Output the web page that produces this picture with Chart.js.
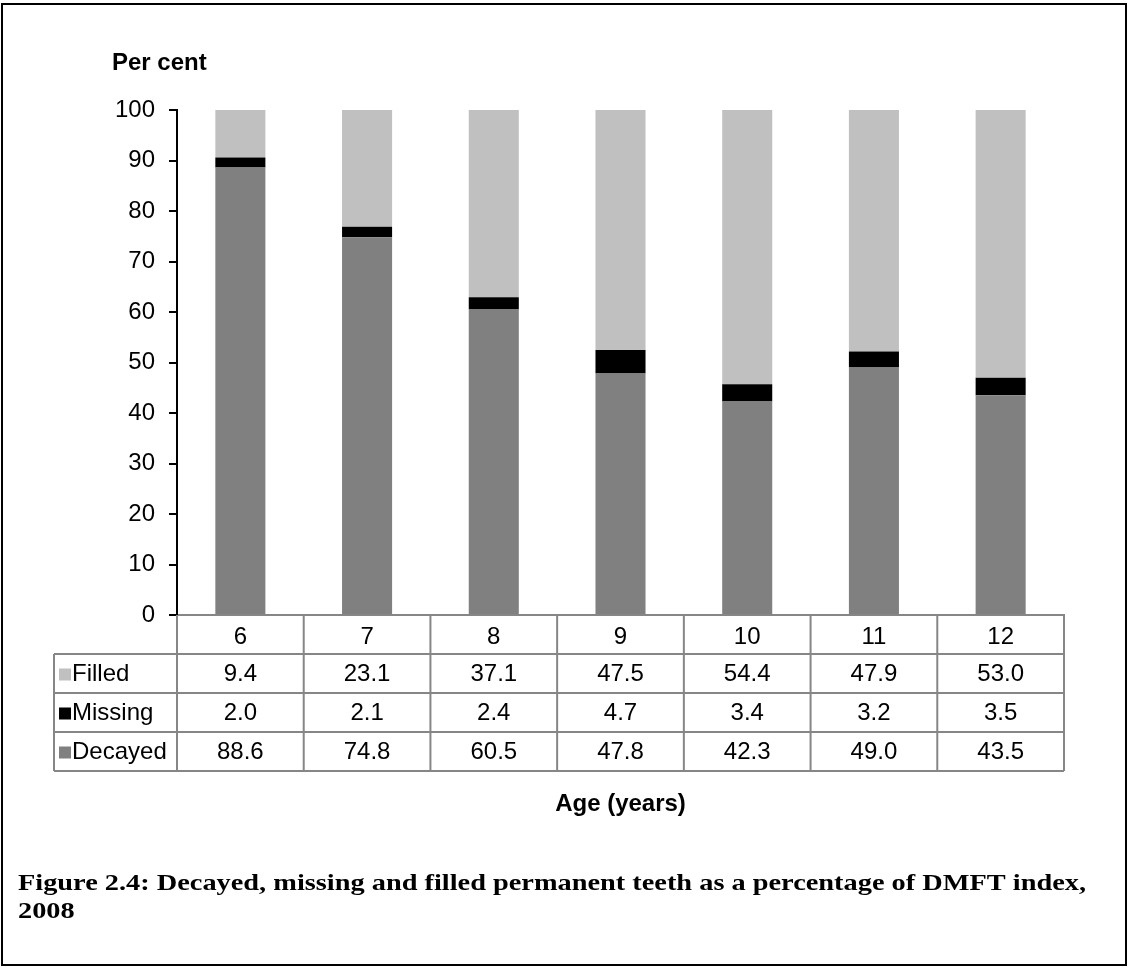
<!DOCTYPE html>
<html>
<head>
<meta charset="utf-8">
<title>Decayed, missing and filled permanent teeth, 2008</title>
<script src="https://cdn.jsdelivr.net/npm/chart.js@4.4.1/dist/chart.umd.min.js"></script>
<style>
  html, body { margin: 0; padding: 0; background: #ffffff; }
  canvas { display: block; }
</style>
</head>
<body>
<canvas id="dmft" width="1128" height="968"></canvas>
<script>
// Age groups (years) and share of the DMFT index (per cent) by component
const ages = ['6', '7', '8', '9', '10', '11', '12'];
const filled = [9.4, 23.1, 37.1, 47.5, 54.4, 47.9, 53.0];
const missing = [2.0, 2.1, 2.4, 4.7, 3.4, 3.2, 3.5];
const decayed = [88.6, 74.8, 60.5, 47.8, 42.3, 49.0, 43.5];
const yTickValues = [0, 10, 20, 30, 40, 50, 60, 70, 80, 90, 100];

const yAxisTitle = 'Per cent';
const xAxisTitle = 'Age (years)';
const captionLines = [
  'Figure 2.4: Decayed, missing and filled permanent teeth as a percentage of DMFT index,',
  '2008'
];

const SANS = '"Liberation Sans", Arial, sans-serif';
const SERIF = '"Liberation Serif", "Times New Roman", serif';
const FONT_SIZE = 24;
const COLORS = { Filled: '#c0c0c0', Missing: '#000000', Decayed: '#808080' };
const TABLE_LINE = '#868686';

// Row order of the data table under the bars
const tableRows = [
  { name: 'Filled', values: filled },
  { name: 'Missing', values: missing },
  { name: 'Decayed', values: decayed }
];

const HEADER_H = 39;
const ROW_H = 39;
const LEGEND_LEFT = 54;

// Draws the data table, axis titles, caption and the frame
const decorations = {
  id: 'decorations',
  afterDraw(chart) {
    const ctx = chart.ctx;
    const area = chart.chartArea;
    const x = chart.scales.x;
    const colW = (x.right - x.left) / ages.length;
    const top = area.bottom;
    const bottom = top + HEADER_H + ROW_H * tableRows.length;

    ctx.save();

    // table grid
    ctx.strokeStyle = TABLE_LINE;
    ctx.lineWidth = 2;
    ctx.beginPath();
    for (let r = 0; r <= tableRows.length; r++) {
      const y = top + HEADER_H + r * ROW_H;
      ctx.moveTo(LEGEND_LEFT, y);
      ctx.lineTo(x.right, y);
    }
    for (let i = 0; i <= ages.length; i++) {
      const xx = i < ages.length ? x.getPixelForValue(i) - colW / 2 : x.getPixelForValue(ages.length - 1) + colW / 2;
      ctx.moveTo(xx, top);
      ctx.lineTo(xx, bottom);
    }
    ctx.moveTo(LEGEND_LEFT, top + HEADER_H);
    ctx.lineTo(LEGEND_LEFT, bottom);
    ctx.stroke();

    // table values and legend keys
    ctx.font = FONT_SIZE + 'px ' + SANS;
    ctx.textBaseline = 'middle';
    tableRows.forEach((row, r) => {
      const cy = top + HEADER_H + r * ROW_H + ROW_H / 2 + 1;
      ctx.fillStyle = COLORS[row.name];
      ctx.fillRect(LEGEND_LEFT + 5, cy - 6, 12, 12);
      ctx.fillStyle = '#000';
      ctx.textAlign = 'left';
      ctx.fillText(row.name, LEGEND_LEFT + 18, cy);
      ctx.textAlign = 'center';
      row.values.forEach((v, i) => {
        ctx.fillText(v.toFixed(1), x.getPixelForValue(i), cy);
      });
    });

    // axis titles
    ctx.font = 'bold ' + FONT_SIZE + 'px ' + SANS;
    ctx.textAlign = 'left';
    ctx.fillText(yAxisTitle, 112, 63);
    ctx.textAlign = 'center';
    ctx.fillText(xAxisTitle, (area.left + area.right) / 2, 804);

    // caption
    ctx.font = 'bold 23px ' + SERIF;
    ctx.textAlign = 'left';
    const w = ctx.measureText(captionLines[0]).width;
    const sx = 1068 / w;
    ctx.save();
    ctx.translate(18, 0);
    ctx.scale(sx, 1);
    ctx.fillText(captionLines[0], 0, 884);
    ctx.fillText(captionLines[1], 0, 912);
    ctx.restore();

    // frame
    ctx.strokeStyle = '#000';
    ctx.lineWidth = 2;
    ctx.strokeRect(2, 4, 1124, 961);

    ctx.restore();
  }
};

new Chart(document.getElementById('dmft'), {
  type: 'bar',
  data: {
    labels: ages,
    datasets: [
      { label: 'Decayed', data: decayed, backgroundColor: COLORS.Decayed, stack: 'dmft' },
      { label: 'Missing', data: missing, backgroundColor: COLORS.Missing, stack: 'dmft' },
      { label: 'Filled', data: filled, backgroundColor: COLORS.Filled, stack: 'dmft' }
    ]
  },
  options: {
    responsive: false,
    devicePixelRatio: 1,
    animation: false,
    layout: { padding: { top: 110, right: 64, bottom: 968 - 615 - HEADER_H, left: 0 } },
    datasets: { bar: { categoryPercentage: 1, barPercentage: 0.395 } },
    plugins: {
      legend: { display: false },
      tooltip: { enabled: false },
      title: { display: false }
    },
    scales: {
      x: {
        stacked: true,
        grid: { display: false, drawTicks: false },
        border: { display: true, color: TABLE_LINE, width: 2 },
        ticks: { color: '#000', font: { family: SANS, size: FONT_SIZE }, padding: 8, maxRotation: 0 },
        afterFit(scale) { scale.height = HEADER_H; }
      },
      y: {
        stacked: true,
        min: 0,
        max: 100,
        afterBuildTicks(scale) { scale.ticks = yTickValues.map(v => ({ value: v })); },
        grid: { display: true, drawOnChartArea: false, drawTicks: true, tickLength: 8, color: '#000', lineWidth: 2 },
        border: { display: true, color: '#000', width: 2 },
        ticks: { color: '#000', font: { family: SANS, size: FONT_SIZE }, padding: 14 },
        afterFit(scale) { scale.width = 177; }
      }
    }
  },
  plugins: [decorations]
});
</script>
</body>
</html>
